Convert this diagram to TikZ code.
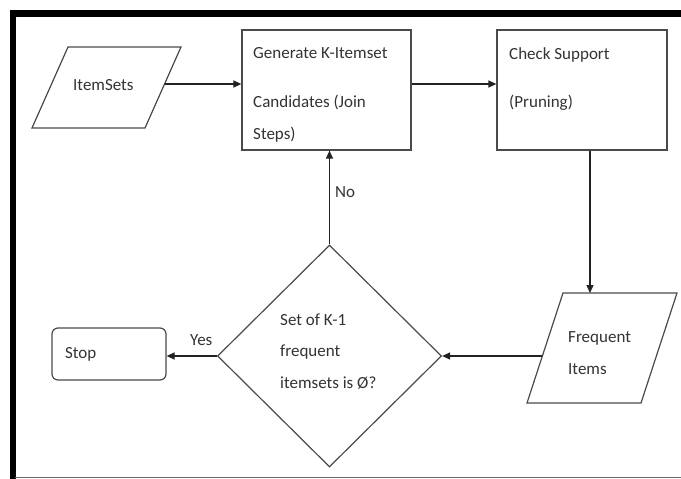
\documentclass[tikz,border=0pt]{standalone}
\usepackage{fontspec}
\setmainfont{Carlito}
\usetikzlibrary{shapes.geometric,arrows.meta,calc}
\definecolor{shapegray}{HTML}{4A4A4A}
\definecolor{arrowgray}{HTML}{222222}
\definecolor{textgray}{HTML}{333333}
\definecolor{framegray}{HTML}{6A6A6A}
\begin{document}
\begin{tikzpicture}[x=1pt,y=-1pt,
  shp/.style={draw=shapegray, line width=1.2pt},
  box/.style={shp, rectangle, inner sep=0pt},
  decision/.style={shp, diamond, inner sep=0pt},
  txt/.style={font=\fontsize{17}{31.5}\selectfont, text=textgray, align=left, inner sep=0pt},
  arr/.style={draw=arrowgray, line width=1.3pt, -{Triangle[length=8pt,width=7pt]}}]
\useasboundingbox (0,0) rectangle (681,479);
% frame
\fill[black] (10,10) rectangle (681,16.5);
\fill[black] (10,10) rectangle (15.5,479);
\draw[framegray, line width=1.5pt] (15,477.5) -- (681,477.5);

% input parallelogram: ItemSets
\draw[shp] (32,128) coordinate (it-bl) -- (68,47) coordinate (it-tl)
  -- (181,47) coordinate (it-tr) -- (145,128) coordinate (it-br) -- cycle;
\node[txt, anchor=base west] (items) at (73,90.5) {ItemSets};

% process boxes
\node[box, minimum width=169pt, minimum height=120pt] (gen) at (326.5,90) {};
\node[txt, anchor=base west] (gentext) at (253,139) {Generate K-Itemset\\[18pt]Candidates (Join\\Steps)};
\node[box, minimum width=170pt, minimum height=120pt] (check) at (582,90) {};
\node[txt, anchor=base west] (checktext) at (509,107.5) {Check Support\\[16.5pt](Pruning)};

% output parallelogram: Frequent Items
\draw[shp] (527,403) coordinate (fr-bl) -- (563,293) coordinate (fr-tl)
  -- (677,293) coordinate (fr-tr) -- (641,403) coordinate (fr-br) -- cycle;
\node[txt, anchor=base west] (freq) at (568,374) {Frequent\\Items};

% decision
\node[decision, minimum width=224pt, minimum height=222pt] (dec) at (329.5,356) {};
\node[txt, anchor=base west] (dectext) at (280,388) {Set of K-1\\frequent\\itemsets is Ø?};

% terminal
\node[box, rounded corners=6pt, minimum width=114pt, minimum height=52pt,
      txt, text width=88pt, inner xsep=13pt] (stop) at (109,354) {Stop};

% connectors
\coordinate (a1) at ($(it-tr)!0.457!(it-br)$);
\draw[arr] (a1) -- (a1 -| gen.west);
\draw[arr] (gen.east |- a1) -- (check.west |- a1);
\coordinate (c1) at ([xshift=8pt]check.south);
\draw[arr] (c1) -- (c1 |- fr-tl);
\coordinate (f1) at ($(fr-tl)!0.573!(fr-bl)$);
\draw[arr] (dec.east -| f1) -- (dec.east);
\draw[arr] (dec.west) -- (stop.east |- dec.west);
\draw[arr] (dec.north) -- (gen.south -| dec.north);

% labels
\node[txt, anchor=base west] (nolbl) at (335,197) {No};
\node[txt, anchor=base west] (yeslbl) at (190,345) {Yes};
\end{tikzpicture}
\end{document}
